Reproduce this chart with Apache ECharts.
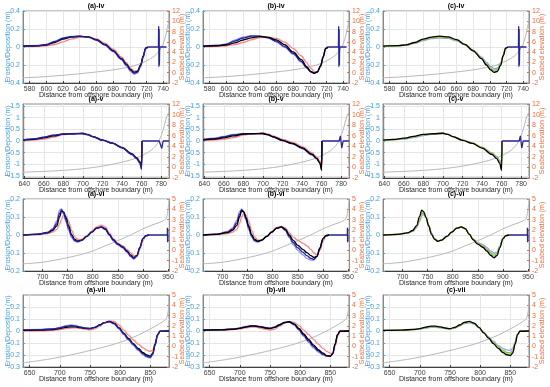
<!DOCTYPE html>
<html><head><meta charset="utf-8">
<script src="https://cdn.jsdelivr.net/npm/echarts@6/dist/echarts.min.js"></script>
<style>html,body{margin:0;padding:0;background:#fff}#c{width:550px;height:387px}</style>
</head><body><div id="c"></div>
<script>
// ---------- Row iv ----------
const X_IV = [572, 590, 600, 610, 620, 630, 640, 650, 660, 670, 680, 690, 696, 701, 705, 709, 713, 716, 719, 722];
const A_IV_LB = [0.012, 0.018, 0.03, 0.065, 0.1, 0.117, 0.12, 0.108, 0.075, 0.02, -0.05, -0.14, -0.21, -0.27, -0.3, -0.29, -0.22, -0.12, -0.02, 0];
const A_IV_NV = [0.01, 0.016, 0.027, 0.06, 0.097, 0.115, 0.12, 0.11, 0.078, 0.025, -0.045, -0.135, -0.2, -0.26, -0.29, -0.28, -0.21, -0.11, -0.015, 0];
const A_IV_BK = [0.01, 0.014, 0.022, 0.05, 0.088, 0.11, 0.118, 0.112, 0.082, 0.03, -0.04, -0.128, -0.19, -0.25, -0.28, -0.272, -0.2, -0.1, -0.01, 0];
const A_IV_RD = [0.005, 0.008, 0.013, 0.028, 0.058, 0.088, 0.108, 0.112, 0.09, 0.042, -0.025, -0.11, -0.175, -0.235, -0.265, -0.265, -0.21, -0.11, -0.015, 0];
const B_IV_LB = [0.01, 0.02, 0.035, 0.075, 0.11, 0.125, 0.12, 0.1, 0.055, -0.005, -0.08, -0.17, -0.235, -0.275, -0.29, -0.275, -0.21, -0.11, -0.015, 0];
const B_IV_NV = [0.01, 0.017, 0.03, 0.065, 0.1, 0.12, 0.12, 0.105, 0.065, 0.005, -0.07, -0.16, -0.228, -0.275, -0.29, -0.278, -0.21, -0.11, -0.015, 0];
const B_IV_BK = [0.01, 0.014, 0.022, 0.045, 0.078, 0.102, 0.115, 0.108, 0.08, 0.025, -0.055, -0.14, -0.215, -0.27, -0.29, -0.278, -0.21, -0.11, -0.015, 0];
const B_IV_RD = [0.005, 0.008, 0.013, 0.027, 0.05, 0.08, 0.105, 0.11, 0.095, 0.055, -0.015, -0.1, -0.17, -0.235, -0.27, -0.275, -0.22, -0.12, -0.02, 0];
const C_IV_LB = [0.01, 0.013, 0.02, 0.04, 0.07, 0.092, 0.1, 0.095, 0.07, 0.025, -0.035, -0.11, -0.17, -0.215, -0.24, -0.235, -0.18, -0.09, -0.01, 0];
const C_IV_GR = [0.01, 0.014, 0.022, 0.045, 0.078, 0.1, 0.108, 0.102, 0.076, 0.027, -0.038, -0.12, -0.185, -0.235, -0.258, -0.25, -0.19, -0.095, -0.01, 0];
const C_IV_YL = [0.01, 0.014, 0.023, 0.048, 0.082, 0.105, 0.114, 0.107, 0.079, 0.028, -0.04, -0.125, -0.193, -0.245, -0.27, -0.262, -0.2, -0.1, -0.012, 0];
const C_IV_BK = [0.01, 0.015, 0.024, 0.05, 0.087, 0.11, 0.12, 0.112, 0.082, 0.03, -0.042, -0.13, -0.2, -0.255, -0.282, -0.272, -0.205, -0.1, -0.012, 0];
const TAIL_IV_X = [722, 734.3, 734.6, 734.9, 735.2, 735.5, 735.8, 744];
const TAIL_IV_Y = [0, 0, 0.23, -0.22, 0.2, -0.2, 0, 0];
const ELEV_IV_X = [572, 600, 620, 640, 660, 680, 700, 710, 720, 730, 735, 740, 743, 745, 747];
const ELEV_IV_Y = [-1.0, -0.75, -0.5, -0.2, 0.15, 0.55, 1.15, 1.6, 2.3, 3.3, 4.2, 5.6, 7.2, 8.6, 10.3];

// ---------- Row v ----------
const X_V = [638.7, 650, 660, 670, 680, 690, 700, 705, 710, 720, 730, 740, 750, 755, 758, 760, 760.4];
const A_V_LB = [0.05, 0.09, 0.16, 0.25, 0.3, 0.31, 0.32, 0.27, 0.19, 0.035, -0.1, -0.3, -0.58, -0.77, -0.95, -1.22, 0];
const A_V_NV = [0.05, 0.09, 0.16, 0.25, 0.3, 0.31, 0.32, 0.27, 0.19, 0.04, -0.095, -0.29, -0.57, -0.75, -0.92, -1.2, 0];
const A_V_BK = [0.04, 0.07, 0.13, 0.22, 0.29, 0.31, 0.32, 0.27, 0.19, 0.04, -0.09, -0.28, -0.55, -0.72, -0.88, -1.08, 0];
const A_V_RD = [0.02, 0.04, 0.08, 0.17, 0.27, 0.32, 0.34, 0.29, 0.2, 0.045, -0.08, -0.27, -0.53, -0.7, -0.85, -1.0, 0];
const B_V_LB = [0.07, 0.12, 0.2, 0.28, 0.31, 0.315, 0.32, 0.27, 0.18, 0.015, -0.12, -0.32, -0.6, -0.77, -0.94, -1.12, 0];
const B_V_NV = [0.06, 0.1, 0.17, 0.26, 0.31, 0.315, 0.32, 0.27, 0.18, 0.02, -0.11, -0.3, -0.57, -0.75, -0.92, -1.1, 0];
const B_V_BK = [0.04, 0.08, 0.13, 0.22, 0.29, 0.31, 0.32, 0.27, 0.19, 0.03, -0.1, -0.29, -0.56, -0.74, -0.92, -1.25, 0];
const B_V_RD = [0.02, 0.04, 0.07, 0.15, 0.25, 0.31, 0.35, 0.3, 0.22, 0.07, -0.05, -0.24, -0.5, -0.68, -0.84, -1.0, 0];
const C_V_LB = [0.03, 0.05, 0.08, 0.15, 0.23, 0.29, 0.32, 0.28, 0.2, 0.045, -0.08, -0.26, -0.5, -0.66, -0.82, -0.92, 0];
const C_V_GR = [0.035, 0.06, 0.1, 0.18, 0.26, 0.305, 0.33, 0.28, 0.19, 0.04, -0.09, -0.28, -0.53, -0.7, -0.87, -1.0, 0];
const C_V_YL = [0.04, 0.065, 0.11, 0.19, 0.27, 0.31, 0.33, 0.28, 0.19, 0.035, -0.095, -0.29, -0.55, -0.72, -0.9, -1.1, 0];
const C_V_BK = [0.04, 0.07, 0.12, 0.2, 0.28, 0.31, 0.33, 0.28, 0.19, 0.03, -0.1, -0.3, -0.57, -0.75, -0.95, -1.25, 0];
const TAIL_V_X = [760.4, 778, 779.2, 780.6, 782, 788];
const TAIL_V_A_Y = [0, 0, 0.05, -0.32, 0, 0];
const TAIL_V_BC_Y = [0, 0, 0.22, -0.3, 0, 0];
const ELEV_V_X = [638.7, 660, 680, 700, 720, 740, 750, 760, 770, 776, 780, 783, 786, 788];
const ELEV_V_Y = [-0.9, -0.75, -0.55, -0.25, 0.25, 1.0, 1.5, 2.2, 3.3, 4.5, 6.0, 7.8, 9.8, 10.3];

// ---------- Row vi ----------
const X_VI = [661, 690, 710, 720, 728, 734, 738, 742, 747, 752, 758, 764, 770, 778, 788, 798, 808, 817, 825, 833, 841, 850, 860, 868, 876, 882, 888, 894, 900, 906, 912];
const A_VI_LB = [0, 0.005, 0.015, 0.035, 0.075, 0.14, 0.145, 0.115, 0.07, 0.025, -0.015, -0.035, -0.04, -0.03, -0.008, 0.016, 0.038, 0.043, 0.03, -0.002, -0.032, -0.055, -0.072, -0.095, -0.122, -0.135, -0.118, -0.07, -0.02, -0.003, 0];
const A_VI_NV = [0, 0.005, 0.014, 0.03, 0.062, 0.12, 0.14, 0.122, 0.082, 0.037, -0.006, -0.03, -0.037, -0.03, -0.008, 0.016, 0.038, 0.044, 0.032, 0.001, -0.029, -0.052, -0.069, -0.092, -0.117, -0.13, -0.116, -0.07, -0.02, -0.003, 0];
const A_VI_BK = [0, 0.004, 0.012, 0.025, 0.05, 0.1, 0.134, 0.128, 0.095, 0.05, 0.002, -0.024, -0.034, -0.028, -0.008, 0.016, 0.038, 0.045, 0.035, 0.004, -0.026, -0.05, -0.066, -0.088, -0.112, -0.125, -0.113, -0.068, -0.02, -0.003, 0];
const A_VI_RD = [0, 0.002, 0.008, 0.016, 0.03, 0.06, 0.09, 0.11, 0.105, 0.075, 0.025, -0.01, -0.025, -0.025, -0.005, 0.022, 0.045, 0.055, 0.045, 0.012, -0.02, -0.045, -0.06, -0.08, -0.1, -0.115, -0.12, -0.08, -0.03, -0.005, 0];
const B_VI_LB = [0, 0.006, 0.02, 0.04, 0.08, 0.13, 0.145, 0.125, 0.08, 0.03, -0.012, -0.035, -0.04, -0.03, -0.008, 0.016, 0.038, 0.043, 0.025, -0.015, -0.055, -0.085, -0.11, -0.13, -0.14, -0.14, -0.12, -0.07, -0.02, -0.003, 0];
const B_VI_NV = [0, 0.005, 0.016, 0.033, 0.066, 0.115, 0.14, 0.128, 0.088, 0.04, -0.005, -0.03, -0.037, -0.029, -0.008, 0.016, 0.038, 0.044, 0.029, -0.008, -0.043, -0.072, -0.095, -0.115, -0.13, -0.135, -0.12, -0.072, -0.021, -0.003, 0];
const B_VI_BK = [0, 0.004, 0.013, 0.026, 0.052, 0.1, 0.135, 0.13, 0.097, 0.05, 0.002, -0.024, -0.034, -0.028, -0.008, 0.016, 0.038, 0.045, 0.033, 0.0, -0.03, -0.058, -0.08, -0.098, -0.115, -0.125, -0.118, -0.075, -0.022, -0.003, 0];
const B_VI_RD = [0, 0.002, 0.008, 0.016, 0.03, 0.065, 0.1, 0.12, 0.11, 0.075, 0.025, -0.01, -0.028, -0.028, -0.006, 0.02, 0.042, 0.048, 0.04, 0.012, -0.012, -0.03, -0.045, -0.06, -0.08, -0.1, -0.11, -0.085, -0.035, -0.006, 0];
const C_VI_LB = [0, 0.003, 0.01, 0.02, 0.04, 0.075, 0.105, 0.115, 0.095, 0.055, 0.01, -0.02, -0.032, -0.028, -0.008, 0.016, 0.037, 0.043, 0.034, 0.006, -0.022, -0.042, -0.052, -0.07, -0.09, -0.1, -0.095, -0.06, -0.018, -0.003, 0];
const C_VI_GR = [0, 0.004, 0.011, 0.022, 0.045, 0.088, 0.118, 0.122, 0.095, 0.052, 0.006, -0.022, -0.033, -0.028, -0.008, 0.016, 0.038, 0.044, 0.035, 0.005, -0.024, -0.046, -0.06, -0.08, -0.1, -0.112, -0.104, -0.064, -0.019, -0.003, 0];
const C_VI_YL = [0, 0.004, 0.012, 0.024, 0.048, 0.095, 0.127, 0.126, 0.095, 0.05, 0.004, -0.023, -0.034, -0.028, -0.008, 0.016, 0.038, 0.045, 0.035, 0.004, -0.025, -0.048, -0.064, -0.085, -0.107, -0.12, -0.11, -0.067, -0.02, -0.003, 0];
const C_VI_BK = [0, 0.004, 0.012, 0.025, 0.052, 0.103, 0.138, 0.13, 0.096, 0.05, 0.002, -0.024, -0.035, -0.028, -0.008, 0.016, 0.038, 0.045, 0.035, 0.003, -0.027, -0.051, -0.068, -0.09, -0.114, -0.127, -0.115, -0.07, -0.021, -0.003, 0];
const TAIL_VI_X = [912, 948.6, 948.9, 949.2, 949.5, 949.8, 950.1];
const TAIL_VI_Y = [0, 0, 0.04, -0.04, 0.035, -0.035, 0];
const ELEV_VI_X = [661, 700, 750, 780, 800, 830, 850, 880, 900, 920, 940, 946, 949, 951, 952];
const ELEV_VI_Y = [-1.3, -1.15, -0.7, -0.35, -0.05, 0.55, 0.95, 1.6, 2.1, 2.5, 2.85, 3.1, 3.6, 4.4, 5.0];

// ---------- Row vii ----------
const X_VII = [639, 670, 690, 700, 710, 718, 726, 734, 742, 750, 758, 766, 774, 782, 790, 798, 806, 814, 822, 830, 838, 844, 850, 854, 858, 862, 866, 881];
const A_VII_LB = [0.012, 0.014, 0.02, 0.03, 0.044, 0.05, 0.046, 0.036, 0.026, 0.022, 0.03, 0.048, 0.067, 0.075, 0.058, 0.018, -0.03, -0.078, -0.122, -0.162, -0.198, -0.218, -0.225, -0.2, -0.12, -0.035, -0.003, 0];
const A_VII_NV = [0.01, 0.012, 0.017, 0.026, 0.038, 0.044, 0.041, 0.033, 0.024, 0.021, 0.03, 0.049, 0.069, 0.078, 0.062, 0.024, -0.024, -0.07, -0.113, -0.153, -0.189, -0.21, -0.218, -0.193, -0.115, -0.033, -0.003, 0];
const A_VII_BK = [0.005, 0.007, 0.012, 0.02, 0.03, 0.035, 0.034, 0.028, 0.022, 0.02, 0.03, 0.05, 0.07, 0.08, 0.065, 0.028, -0.018, -0.062, -0.105, -0.145, -0.18, -0.2, -0.21, -0.185, -0.11, -0.03, -0.002, 0];
const A_VII_RD = [0, 0.002, 0.006, 0.012, 0.02, 0.025, 0.026, 0.022, 0.015, 0.01, 0.018, 0.04, 0.068, 0.085, 0.08, 0.05, 0.008, -0.035, -0.075, -0.11, -0.14, -0.16, -0.17, -0.16, -0.1, -0.03, -0.002, 0];
const B_VII_LB = [0.01, 0.012, 0.018, 0.026, 0.038, 0.045, 0.045, 0.038, 0.03, 0.025, 0.035, 0.055, 0.072, 0.072, 0.05, 0.005, -0.045, -0.095, -0.14, -0.175, -0.2, -0.21, -0.21, -0.185, -0.11, -0.03, -0.002, 0];
const B_VII_NV = [0.009, 0.011, 0.016, 0.024, 0.035, 0.042, 0.043, 0.036, 0.028, 0.023, 0.033, 0.053, 0.071, 0.075, 0.055, 0.013, -0.035, -0.083, -0.128, -0.165, -0.193, -0.208, -0.21, -0.188, -0.11, -0.03, -0.002, 0];
const B_VII_BK = [0.008, 0.01, 0.015, 0.022, 0.033, 0.04, 0.04, 0.034, 0.025, 0.02, 0.03, 0.05, 0.07, 0.077, 0.06, 0.022, -0.025, -0.07, -0.115, -0.155, -0.185, -0.205, -0.21, -0.19, -0.11, -0.03, -0.002, 0];
const B_VII_RD = [0.005, 0.007, 0.012, 0.018, 0.026, 0.032, 0.033, 0.025, 0.015, 0.008, 0.016, 0.04, 0.065, 0.08, 0.072, 0.045, 0.008, -0.03, -0.07, -0.11, -0.145, -0.17, -0.185, -0.19, -0.13, -0.045, -0.005, 0];
const C_VII_LB = [0.006, 0.007, 0.011, 0.016, 0.024, 0.03, 0.031, 0.026, 0.02, 0.017, 0.025, 0.043, 0.062, 0.068, 0.057, 0.026, -0.012, -0.05, -0.085, -0.12, -0.145, -0.158, -0.162, -0.145, -0.09, -0.025, -0.002, 0];
const C_VII_GR = [0.006, 0.008, 0.012, 0.018, 0.028, 0.035, 0.035, 0.03, 0.022, 0.018, 0.027, 0.046, 0.066, 0.074, 0.061, 0.028, -0.014, -0.055, -0.095, -0.132, -0.162, -0.178, -0.184, -0.165, -0.1, -0.028, -0.002, 0];
const C_VII_YL = [0.006, 0.008, 0.013, 0.019, 0.03, 0.037, 0.037, 0.032, 0.023, 0.019, 0.029, 0.048, 0.069, 0.077, 0.064, 0.029, -0.015, -0.058, -0.1, -0.139, -0.171, -0.189, -0.195, -0.175, -0.105, -0.029, -0.002, 0];
const C_VII_BK = [0.006, 0.008, 0.013, 0.02, 0.032, 0.04, 0.04, 0.034, 0.025, 0.02, 0.03, 0.05, 0.072, 0.08, 0.066, 0.03, -0.015, -0.06, -0.105, -0.145, -0.18, -0.198, -0.205, -0.185, -0.11, -0.03, -0.002, 0];
const TAIL_VII_X = [881];
const TAIL_VII_Y = [0];
const ELEV_VII_X = [639, 680, 720, 750, 780, 800, 830, 850, 865, 875, 878, 880, 881];
const ELEV_VII_Y = [-1.6, -1.25, -0.8, -0.4, 0.05, 0.4, 1.1, 1.7, 2.2, 2.6, 2.9, 3.6, 4.5];

// ---------- axes ----------
const X_RANGE = [[572, 747], [638.7, 788], [661, 952], [639, 881]];
const X_TICKS = [[580, 600, 620, 640, 660, 680, 700, 720, 740], [640, 660, 680, 700, 720, 740, 760, 780], [700, 750, 800, 850, 900, 950], [650, 700, 750, 800, 850]];
const L_RANGE = [[-0.4, 0.4], [-1.58, 1.58], [-0.2, 0.2], [-0.3, 0.3]];
const L_TICKS = [[-0.4, -0.2, 0, 0.2, 0.4], [-1.5, -1, -0.5, 0, 0.5, 1, 1.5], [-0.2, -0.1, 0, 0.1, 0.2], [-0.3, -0.2, -0.1, 0, 0.1, 0.2]];
const R_RANGE = [[-2, 12], [-2, 12], [-2, 5], [-2, 5]];
const R_INTERVAL = [2, 2, 1, 1];
const ROW_NAMES = ['iv', 'v', 'vi', 'vii'];
const COL_NAMES = ['(a)', '(b)', '(c)'];

// ---------- layout & styles ----------
const COL_LEFT = [23, 203, 383], PLOT_W = 146;
const ROW_TOP = [11, 104, 199, 295], ROW_H = [72, 74, 72, 72];
const FONT = 'Liberation Sans, Arial, sans-serif';
const BLUE = '#3d9ee0', ORANGE = '#ee6c3e';
const LB = '#8a8aff', NV = '#1f1f96', BK = '#000000', RD = '#ff8282';
const LB2 = '#9d9dff', GR = '#55cc55', YL = '#cccc3c';
const TAILC = '#2a2696', ELEVC = '#b8b8b8';

const PANELS = [
  {r:0,c:0,x:X_IV,curves:[[A_IV_LB,LB],[A_IV_RD,RD],[A_IV_BK,BK],[A_IV_NV,NV]],tx:TAIL_IV_X,ty:TAIL_IV_Y,ex:ELEV_IV_X,ey:ELEV_IV_Y},
  {r:0,c:1,x:X_IV,curves:[[B_IV_LB,LB],[B_IV_RD,RD],[B_IV_NV,NV],[B_IV_BK,BK]],tx:TAIL_IV_X,ty:TAIL_IV_Y,ex:ELEV_IV_X,ey:ELEV_IV_Y},
  {r:0,c:2,x:X_IV,curves:[[C_IV_LB,LB2],[C_IV_GR,GR],[C_IV_YL,YL],[C_IV_BK,BK]],tx:TAIL_IV_X,ty:TAIL_IV_Y,ex:ELEV_IV_X,ey:ELEV_IV_Y},
  {r:1,c:0,x:X_V,curves:[[A_V_LB,LB],[A_V_RD,RD],[A_V_BK,BK],[A_V_NV,NV]],tx:TAIL_V_X,ty:TAIL_V_A_Y,ex:ELEV_V_X,ey:ELEV_V_Y},
  {r:1,c:1,x:X_V,curves:[[B_V_LB,LB],[B_V_RD,RD],[B_V_NV,NV],[B_V_BK,BK]],tx:TAIL_V_X,ty:TAIL_V_BC_Y,ex:ELEV_V_X,ey:ELEV_V_Y},
  {r:1,c:2,x:X_V,curves:[[C_V_LB,LB2],[C_V_GR,GR],[C_V_YL,YL],[C_V_BK,BK]],tx:TAIL_V_X,ty:TAIL_V_BC_Y,ex:ELEV_V_X,ey:ELEV_V_Y},
  {r:2,c:0,x:X_VI,curves:[[A_VI_LB,LB],[A_VI_RD,RD],[A_VI_BK,BK],[A_VI_NV,NV]],tx:TAIL_VI_X,ty:TAIL_VI_Y,ex:ELEV_VI_X,ey:ELEV_VI_Y},
  {r:2,c:1,x:X_VI,curves:[[B_VI_LB,LB],[B_VI_RD,RD],[B_VI_NV,NV],[B_VI_BK,BK]],tx:TAIL_VI_X,ty:TAIL_VI_Y,ex:ELEV_VI_X,ey:ELEV_VI_Y},
  {r:2,c:2,x:X_VI,curves:[[C_VI_LB,LB2],[C_VI_GR,GR],[C_VI_YL,YL],[C_VI_BK,BK]],tx:TAIL_VI_X,ty:TAIL_VI_Y,ex:ELEV_VI_X,ey:ELEV_VI_Y},
  {r:3,c:0,x:X_VII,curves:[[A_VII_LB,LB],[A_VII_RD,RD],[A_VII_BK,BK],[A_VII_NV,NV]],tx:TAIL_VII_X,ty:TAIL_VII_Y,ex:ELEV_VII_X,ey:ELEV_VII_Y},
  {r:3,c:1,x:X_VII,curves:[[B_VII_LB,LB],[B_VII_RD,RD],[B_VII_NV,NV],[B_VII_BK,BK]],tx:TAIL_VII_X,ty:TAIL_VII_Y,ex:ELEV_VII_X,ey:ELEV_VII_Y},
  {r:3,c:2,x:X_VII,curves:[[C_VII_LB,LB2],[C_VII_GR,GR],[C_VII_YL,YL],[C_VII_BK,BK]],tx:TAIL_VII_X,ty:TAIL_VII_Y,ex:ELEV_VII_X,ey:ELEV_VII_Y}
];

const zip = (xs, ys) => xs.map((x, k) => [x, ys[k]]);
const grids = [], xAxes = [], yAxes = [], series = [], graphics = [];
PANELS.forEach((p, i) => {
  const r = p.r, c = p.c;
  grids.push({left: COL_LEFT[c], top: ROW_TOP[r], width: PLOT_W, height: ROW_H[r], show: true,
    borderColor: '#8c8c8c', borderWidth: 1, backgroundColor: '#ffffff', containLabel: false, outerBoundsMode: 'none'});
  xAxes.push({type: 'value', gridIndex: i, position: 'bottom', min: X_RANGE[r][0], max: X_RANGE[r][1],
    name: 'Distance from offshore boundary (m)', nameLocation: 'middle', nameGap: 9, nameMoveOverlap: false,
    nameTextStyle: {fontSize: 7, color: '#262626', fontFamily: FONT},
    axisLine: {show: true, onZero: false, lineStyle: {color: '#404040', width: 1}},
    axisTick: {customValues: X_TICKS[r], inside: true, length: 2, lineStyle: {color: '#404040'}},
    axisLabel: {customValues: X_TICKS[r], fontSize: 7, margin: 3, color: '#404040', fontFamily: FONT},
    splitLine: {show: true, lineStyle: {color: '#e6e6e6', width: 1}}});
  yAxes.push({type: 'value', gridIndex: i, position: 'left', min: L_RANGE[r][0], max: L_RANGE[r][1],
    name: 'Erosion/Deposition (m)', nameLocation: 'middle', nameGap: 11, nameMoveOverlap: false,
    nameTextStyle: {fontSize: 7, color: BLUE, fontFamily: FONT},
    axisLine: {show: true, onZero: false, lineStyle: {color: BLUE, width: 1}},
    axisTick: {show: true, customValues: L_TICKS[r], inside: true, length: 2, lineStyle: {color: BLUE}},
    axisLabel: {customValues: L_TICKS[r], fontSize: 7, margin: 3, color: BLUE, fontFamily: FONT},
    splitLine: {show: true, lineStyle: {color: '#e6e6e6', width: 1}}});
  yAxes.push({type: 'value', gridIndex: i, position: 'right', min: R_RANGE[r][0], max: R_RANGE[r][1], interval: R_INTERVAL[r],
    name: 'Seabed elevation (m)', nameLocation: 'middle', nameGap: 10, nameMoveOverlap: false,
    nameTextStyle: {fontSize: 7, color: ORANGE, fontFamily: FONT},
    axisLine: {show: true, onZero: false, lineStyle: {color: ORANGE, width: 1}},
    axisTick: {show: true, inside: true, length: 2, lineStyle: {color: ORANGE}},
    axisLabel: {fontSize: 7, margin: 3, color: ORANGE, fontFamily: FONT},
    splitLine: {show: false}});
  const base = {type: 'line', xAxisIndex: i, showSymbol: false, symbol: 'none', silent: true, animation: false};
  series.push(Object.assign({}, base, {yAxisIndex: 2 * i + 1, data: zip(p.ex, p.ey), smooth: 0.3,
    lineStyle: {color: ELEVC, width: 1}, z: 1}));
  p.curves.forEach(([ys, col]) => {
    series.push(Object.assign({}, base, {yAxisIndex: 2 * i, data: zip(p.x, ys), smooth: 0.35, smoothMonotone: 'x',
      lineStyle: {color: col, width: 1.3}, z: 2}));
  });
  series.push(Object.assign({}, base, {yAxisIndex: 2 * i, data: zip(p.tx, p.ty), smooth: false,
    lineStyle: {color: TAILC, width: 1.3}, z: 3}));
  graphics.push({type: 'text', x: COL_LEFT[c] + PLOT_W / 2, y: ROW_TOP[r] - 5, silent: true,
    style: {text: COL_NAMES[c] + '-' + ROW_NAMES[r], textAlign: 'center', textVerticalAlign: 'middle',
      font: 'bold 7px ' + FONT, fill: '#000'}});
});

const chart = echarts.init(document.getElementById('c'), null, {renderer: 'canvas'});
chart.setOption({
  animation: false, backgroundColor: '#ffffff',
  grid: grids, xAxis: xAxes, yAxis: yAxes, series: series, graphic: graphics
});
</script>
</body></html>
